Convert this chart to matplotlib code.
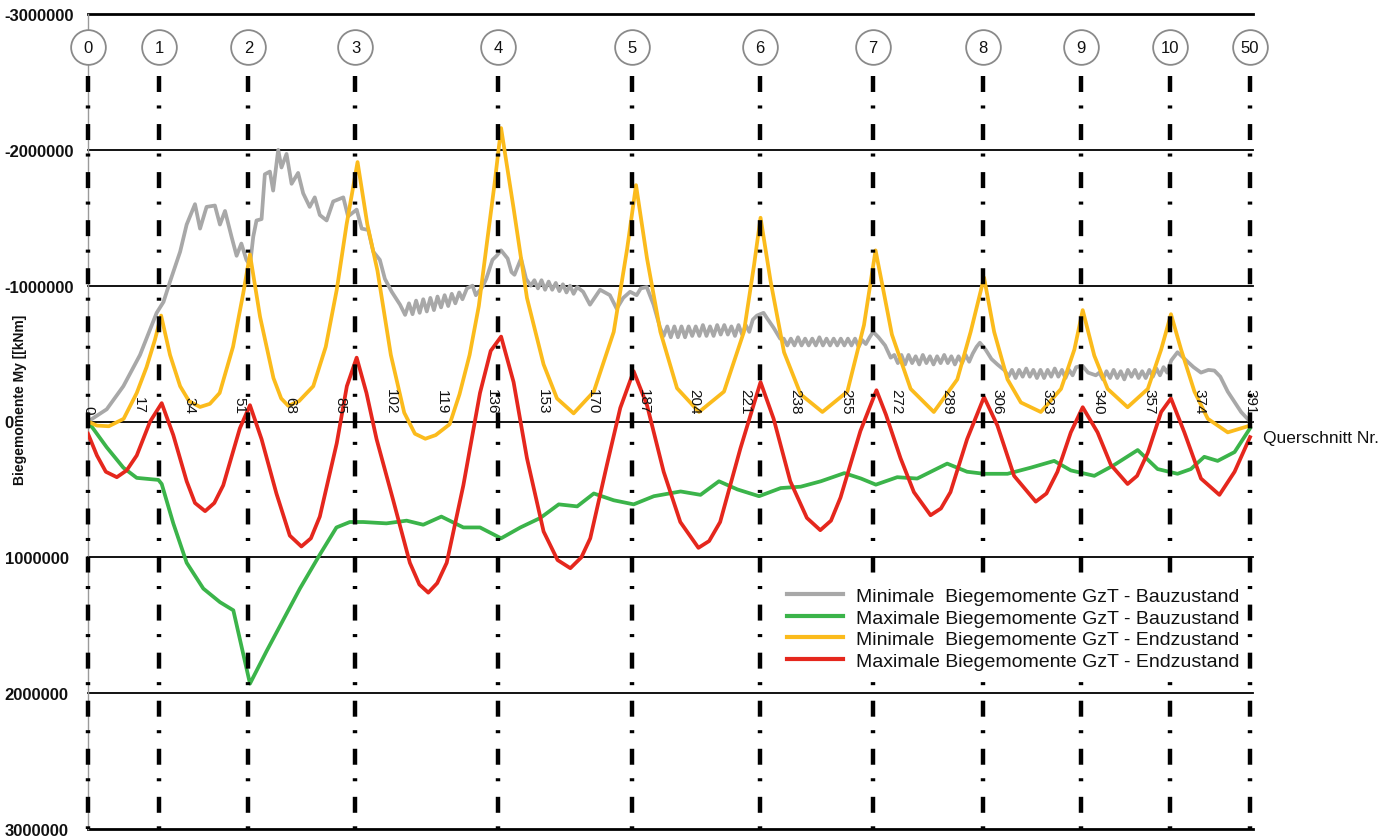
import matplotlib
matplotlib.use('Agg')
import matplotlib.pyplot as plt
import matplotlib.transforms as mtransforms

plt.rcParams['font.family'] = ['Liberation Sans', 'DejaVu Sans']
plt.rcParams['lines.scale_dashes'] = False

# Auflager (Achsen) und Querschnittsnummern
auflager_nr = ['0', '1', '2', '3', '4', '5', '6', '7', '8', '9', '10', '50']
auflager_x = [0, 24, 54, 90, 138, 183, 226, 264, 301, 334, 364, 391]
querschnitte = list(range(0, 392, 17))
y_ticks = [-3000000, -2000000, -1000000, 0, 1000000, 2000000, 3000000]

# Werte in Mio. kNm
# Minimale Biegemomente GzT - Bauzustand (grau)
min_bau_x = [0, 6.3, 11.9, 17.5, 23.1, 25.4, 27.6, 31, 33.2, 36, 37.7, 39.9, 42.7, 44.4, 46.1, 48.3,
             50, 51.6, 53.3, 54.5, 55.6, 56.7, 58.4, 59.5, 61.2, 62.3, 64, 65.1, 66.8, 68.5, 70.7,
             72.4, 74.6, 76.3, 78, 80.3, 82.5, 85.9, 87.5, 90.4, 92.1, 94.3, 96, 98.2, 99.9, 102.2,
             105, 106.7,
             108, 109.2, 110.4, 111.6, 112.8, 114, 115.2, 116.4, 117.6, 118.8, 120, 121.2, 122.4,
             123.6, 124.9, 126, 127.5, 129.4, 130.5, 132.7, 134, 136.1, 137.5, 139, 141.2, 142.5,
             143.5, 145.7, 147.4, 149, 150.2,
             151.4, 152.6, 153.8, 155, 156.2, 157.4, 158.6, 159.8, 161, 162.2, 163.4, 164.6, 166.6,
             168.9, 172.3, 175.6, 177.9, 180.1, 182.4, 184.6, 186, 188, 190.3, 192.5,
             193.7, 194.9, 196.1, 197.3, 198.5, 199.7, 200.9, 202.1, 203.3, 204.5, 205.7, 206.9,
             208.1, 209.3, 210.5, 211.7, 212.9, 214.1, 215.3, 216.5, 217.7, 218.9, 220.1, 221.3,
             222.5, 223.7, 225.1, 227.3, 228.5, 230.7, 232.9,
             234.1, 235.3, 236.5, 237.7, 238.9, 240.1, 241.3, 242.5, 243.7, 244.9, 246.1, 247.3,
             248.5, 249.7, 250.9, 252.1, 253.3, 254.5, 255.7, 256.9, 258.1, 259.3, 260.5, 261.7,
             263, 264.2, 266, 268.2, 270.1,
             271.3, 272.5, 273.7, 274.9, 276.1, 277.3, 278.5, 279.7, 280.9, 282.1, 283.3, 284.5,
             285.7, 286.9, 288.1, 289.3, 290.5, 291.7, 292.9, 294.1, 295.3, 296.5, 297.7, 299,
             300.1, 302, 304, 306, 308.5,
             309.7, 310.9, 312.1, 313.3, 314.5, 315.7, 316.9, 318.1, 319.3, 320.5, 321.7, 322.9,
             324.1, 325.3, 326.5, 327.7, 328.9, 330.1, 331.3, 332.5, 334.6, 336.5, 339.1,
             340.3, 341.5, 342.7, 343.9, 345.1, 346.3, 347.5, 348.7, 349.9, 351.1, 352.3, 353.5,
             354.7, 355.9, 357.1, 358.3, 359.5, 360.7, 361.9, 363.1, 364.5, 366.6, 370, 372, 374.5,
             377, 379, 381, 383.5, 388, 391]
min_bau_y = [0, -0.09, -0.26, -0.49, -0.80, -0.88, -1.03, -1.25, -1.45, -1.60, -1.42, -1.58, -1.59,
             -1.45, -1.55, -1.36, -1.22, -1.31, -1.19, -1.15, -1.36, -1.48, -1.49, -1.82, -1.84,
             -1.70, -2.00, -1.87, -1.97, -1.75, -1.83, -1.68, -1.58, -1.65, -1.52, -1.48, -1.62,
             -1.65, -1.51, -1.56, -1.42, -1.41, -1.25, -1.19, -1.05, -0.955, -0.86, -0.785,
             -0.87, -0.79, -0.89, -0.80, -0.90, -0.81, -0.91, -0.82, -0.92, -0.84, -0.93, -0.85,
             -0.94, -0.87, -0.95, -0.90, -0.98, -1.00, -0.93, -0.99, -1.05, -1.19, -1.22, -1.26,
             -1.20, -1.10, -1.08, -1.20, -1.05, -1.00, -1.04,
             -0.98, -1.04, -0.97, -1.03, -0.97, -1.02, -0.96, -1.01, -0.95, -1.00, -0.94, -0.99,
             -0.955, -0.86, -0.97, -0.93, -0.83, -0.91, -0.955, -0.93, -0.98, -0.99, -0.86, -0.69,
             -0.63, -0.70, -0.62, -0.70, -0.62, -0.70, -0.62, -0.70, -0.63, -0.70, -0.63, -0.71,
             -0.63, -0.70, -0.63, -0.71, -0.64, -0.71, -0.64, -0.70, -0.63, -0.71, -0.64, -0.71,
             -0.66, -0.75, -0.78, -0.80, -0.76, -0.69, -0.61,
             -0.61, -0.56, -0.61, -0.56, -0.62, -0.56, -0.61, -0.56, -0.61, -0.56, -0.62, -0.56,
             -0.61, -0.56, -0.61, -0.56, -0.61, -0.56, -0.61, -0.56, -0.61, -0.55, -0.60, -0.57,
             -0.62, -0.66, -0.62, -0.56, -0.47,
             -0.49, -0.43, -0.49, -0.42, -0.49, -0.43, -0.48, -0.42, -0.49, -0.43, -0.48, -0.42,
             -0.48, -0.43, -0.49, -0.43, -0.48, -0.42, -0.48, -0.43, -0.49, -0.44, -0.50, -0.55,
             -0.58, -0.53, -0.46, -0.42, -0.375,
             -0.33, -0.38, -0.32, -0.38, -0.33, -0.39, -0.33, -0.38, -0.32, -0.38, -0.32, -0.38,
             -0.33, -0.39, -0.33, -0.38, -0.32, -0.38, -0.34, -0.40, -0.41, -0.36, -0.34,
             -0.36, -0.31, -0.37, -0.32, -0.38, -0.32, -0.37, -0.31, -0.38, -0.33, -0.38, -0.32,
             -0.37, -0.32, -0.38, -0.33, -0.39, -0.34, -0.40, -0.36, -0.45, -0.51, -0.44, -0.40,
             -0.36, -0.38, -0.375, -0.33, -0.22, -0.07, 0]

# Maximale Biegemomente GzT - Bauzustand (gruen)
max_bau_x = [0, 6.3, 11.9, 16.4, 23.7, 24.8, 28.7, 33.2, 38.8, 44.4, 48.9, 54.5, 60.1, 65.7, 71.3,
             78, 83.6, 88.1, 92.6, 100.4, 107.2, 112.8, 118.9, 126.3, 131.9, 139, 145.5, 152.2,
             158.4, 164.6, 170.2, 176.9, 183.6, 190.4, 199.4, 206.1, 212.3, 218.5, 225.8, 233.1,
             239.8, 246.6, 254.5, 260.1, 265.1, 272.3, 279, 289.1, 295.8, 301.5, 309.4, 317.2,
             325.1, 330.7, 338.6, 345.3, 353.2, 359.9, 366.6, 371.1, 375.6, 380.1, 385.8, 391]
max_bau_y = [0.0, 0.19, 0.34, 0.415, 0.43, 0.46, 0.75, 1.04, 1.23, 1.33, 1.39, 1.93, 1.69, 1.46,
             1.23, 0.98, 0.78, 0.74, 0.74, 0.75, 0.73, 0.76, 0.70, 0.78, 0.78, 0.86, 0.78, 0.71,
             0.61, 0.625, 0.53, 0.58, 0.61, 0.55, 0.515, 0.54, 0.44, 0.50, 0.55, 0.49, 0.48, 0.44,
             0.38, 0.42, 0.465, 0.41, 0.42, 0.31, 0.37, 0.385, 0.385, 0.34, 0.29, 0.36, 0.40,
             0.32, 0.21, 0.35, 0.385, 0.35, 0.26, 0.29, 0.225, 0.05]

# Minimale Biegemomente GzT - Endzustand (gelb)
min_end_x = [0, 3, 7, 12, 16.4, 19.7, 22.5, 24.6, 27.6, 31, 34, 37.7, 41, 44.3, 48.8, 52.2, 54.5,
             57.9, 62.4, 65, 67.4, 71, 75.8, 80, 83.7, 87, 90.7, 94, 97.4, 101.9, 106.4, 110, 113.5,
             117, 121.7, 125, 128.4, 131.5, 134.2, 136.8, 139, 141.2, 143.2, 147.7, 153.3, 157.8,
             163.4, 170.2, 176.9, 181.4, 184.4, 188.1, 192.6, 198.2, 205.6, 214, 220.7, 224.1,
             226.3, 229.7, 234.2, 239.8, 247.1, 255.5, 261.1, 265, 267.5, 270.5, 276.8, 284.6,
             292.5, 297, 301.5, 304.9, 309.4, 313.9, 320.6, 327.4, 331.9, 334.7, 338.6, 343.1,
             349.8, 356.6, 361.1, 364.4, 367.8, 372.3, 376.8, 383.5, 391]
min_end_y = [0, 0.03, 0.035, -0.02, -0.21, -0.40, -0.60, -0.78, -0.49, -0.26, -0.15, -0.107,
             -0.13, -0.21, -0.55, -0.94, -1.23, -0.77, -0.32, -0.17, -0.115, -0.15, -0.26, -0.55,
             -0.97, -1.45, -1.91, -1.45, -1.11, -0.49, -0.065, 0.09, 0.127, 0.10, 0.02, -0.20,
             -0.49, -0.85, -1.31, -1.75, -2.16, -1.85, -1.57, -0.91, -0.42, -0.17, -0.06, -0.22,
             -0.66, -1.27, -1.74, -1.20, -0.66, -0.245, -0.07, -0.22, -0.66, -1.15, -1.50, -1.03,
             -0.51, -0.20, -0.07, -0.22, -0.71, -1.26, -0.98, -0.64, -0.24, -0.07, -0.31, -0.66,
             -1.06, -0.66, -0.31, -0.14, -0.07, -0.24, -0.53, -0.82, -0.485, -0.24, -0.105, -0.24,
             -0.53, -0.79, -0.53, -0.22, -0.02, 0.08, 0.03]

# Maximale Biegemomente GzT - Endzustand (rot)
max_end_x = [0, 3, 6, 9.7, 13, 16.4, 20.9, 24.8, 28.7, 33.2, 36, 39.4, 42.5, 45.5, 51.1, 54.5,
             58.4, 63.4, 67.9, 71.8, 75, 78, 83.7, 87.1, 90.4, 93.7, 97.1, 102.7, 108.3, 111.5,
             114.5, 117.5, 120.7, 126.3, 131.9, 135.5, 139, 143.2, 147.7, 153.3, 158, 162.3, 166,
             169, 174.6, 179.1, 183.6, 188.1, 193.7, 199.3, 205.4, 209, 212.7, 219.5, 226.3, 230.7,
             236.3, 241.9, 246.4, 250, 253.2, 259.9, 265.3, 268.5, 273.4, 277.9, 283.5, 287, 290.2,
             295.8, 301.5, 306, 311.6, 318.9, 322.5, 326.2, 330.7, 334.7, 339.7, 344.2, 349.8, 353,
             356.6, 361.1, 364.4, 368.9, 374.5, 380.7, 385.8, 391]
max_end_y = [0.09, 0.25, 0.37, 0.41, 0.36, 0.25, 0.0, -0.135, 0.10, 0.44, 0.60, 0.66, 0.60, 0.47,
             0.05, -0.12, 0.13, 0.53, 0.84, 0.92, 0.86, 0.70, 0.16, -0.26, -0.47, -0.21, 0.13,
             0.58, 1.04, 1.20, 1.26, 1.19, 1.04, 0.47, -0.21, -0.52, -0.625, -0.29, 0.27, 0.81,
             1.02, 1.08, 1.00, 0.86, 0.32, -0.10, -0.37, -0.12, 0.37, 0.74, 0.93, 0.88, 0.74, 0.20,
             -0.29, -0.02, 0.44, 0.71, 0.80, 0.73, 0.56, 0.07, -0.23, -0.05, 0.27, 0.52, 0.69,
             0.64, 0.52, 0.13, -0.18, 0.03, 0.40, 0.59, 0.53, 0.37, 0.08, -0.105, 0.08, 0.32, 0.46,
             0.40, 0.23, -0.07, -0.17, 0.08, 0.42, 0.54, 0.37, 0.115]

serien = [
    (min_bau_x, min_bau_y, '#a8a8a8', 'Minimale  Biegemomente GzT - Bauzustand'),
    (max_bau_x, max_bau_y, '#3bb44a', 'Maximale Biegemomente GzT - Bauzustand'),
    (min_end_x, min_end_y, '#fbbb1c', 'Minimale  Biegemomente GzT - Endzustand'),
    (max_end_x, max_end_y, '#e5271d', 'Maximale Biegemomente GzT - Endzustand'),
]

W, H = 1391, 837
fig = plt.figure(figsize=(W / 100, H / 100), dpi=100)
fig.patch.set_facecolor('white')
ax = fig.add_axes([88 / W, (H - 830) / H, (1253 - 88) / W, 815 / H])

ax.set_xlim(0, 392)
ax.set_ylim(3000000, -3000000)

# horizontale Linien
for v in y_ticks:
    lw = 2.0 if abs(v) == 3000000 else 1.3
    ax.axhline(v, color='black', lw=lw, zorder=1, clip_on=False)

for xs, ys, farbe, name in serien:
    ax.plot(xs, [v * 1e6 for v in ys], color=farbe, lw=2.7, label=name, zorder=3,
            solid_joinstyle='round')

# Achslinien (Strich-Punkt) und Kreise mit Achsnummern
trans = mtransforms.blended_transform_factory(ax.transData, ax.transAxes)
for x, nr in zip(auflager_x, auflager_nr):
    ax.plot([x, x], [0.924, 0.0], transform=trans, color='black', lw=3.2,
            linestyle=(0, (11.5, 9.7, 2.2, 11.2)), dash_capstyle='butt',
            zorder=6, clip_on=False)
    ax.plot([x], [0.9595], 'o', ms=25, mfc='white', mec='#8a8a8a', mew=1.3,
            transform=trans, clip_on=False, zorder=7)
    ax.text(x, 0.9595, nr, transform=trans, ha='center', va='center',
            fontsize=12, color='#111111', zorder=8)

# Querschnittsnummern an der Nulllinie
for q in querschnitte:
    ax.annotate(str(q), (q, 0), xytext=(0, 6), textcoords='offset points',
                rotation=270, ha='center', va='bottom', fontsize=11, color='#111111')

ax.set_xticks([])
ax.set_yticks(y_ticks)
ax.set_yticklabels([str(v) for v in y_ticks])
ax.tick_params(axis='y', length=0, pad=60, labelsize=12, labelcolor='#111111')
for lab in ax.get_yticklabels():
    lab.set_horizontalalignment('left')
    lab.set_fontweight('bold')

for s in ['top', 'right', 'bottom']:
    ax.spines[s].set_visible(False)
ax.spines['left'].set_color('#9a9a9a')
ax.spines['left'].set_linewidth(1.0)

fig.text(20 / W, 1 - 400 / H, 'Biegemomente My [[kNm]', rotation=90,
         ha='center', va='center', fontsize=10, fontweight='bold', color='#111111')
fig.text(1263 / W, 1 - 438 / H, 'Querschnitt Nr.', ha='left', va='center',
         fontsize=12.5, color='#111111')

leg = ax.legend(loc='upper left', bbox_to_anchor=(772 / W, 1 - 574 / H),
                bbox_transform=fig.transFigure, fontsize=14, frameon=True,
                facecolor='white', edgecolor='none', framealpha=1, fancybox=False,
                handlelength=2.9, handletextpad=0.67, labelspacing=0.2, borderpad=0.25)
leg.set_zorder(10)
for t in leg.get_texts():
    t.set_color('#111111')
for h in leg.get_lines():
    h.set_linewidth(3.0)

fig.savefig('out.png', dpi=100)
